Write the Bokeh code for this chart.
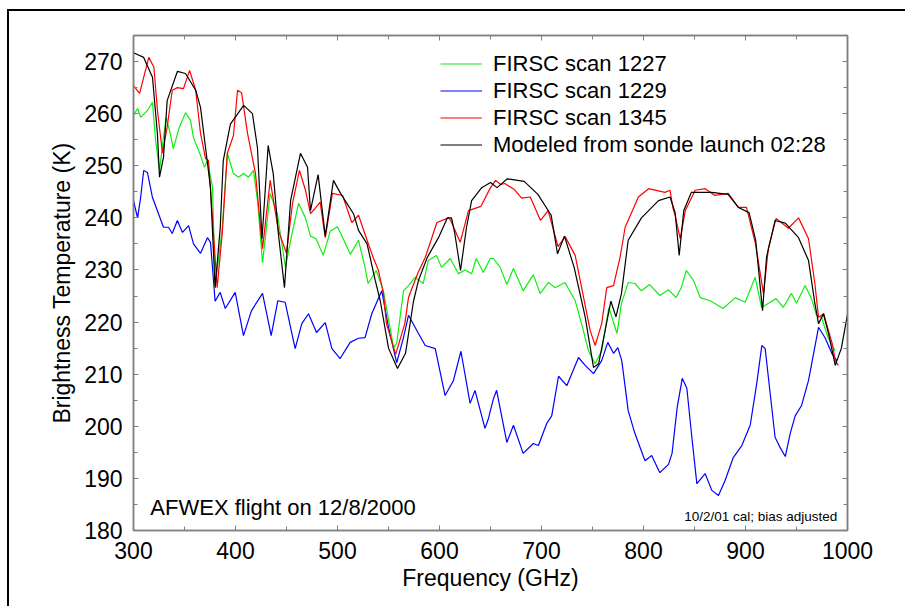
from bokeh.plotting import figure
from bokeh.models import (Range1d, LinearAxis, SingleIntervalTicker, Legend, LegendItem, Label,
                          CustomJSTickFormatter)
from bokeh.embed import file_html
from bokeh.resources import INLINE

# ---------------- data ----------------
model_f = [300, 310, 318.6, 323.5, 325.5, 329.4, 333, 343, 351, 361, 365.7, 370.6, 375.5, 380, 385, 388, 395, 408,
           416.6, 421.5, 426, 432, 437, 442, 448, 454, 463.7, 470.6, 473.5, 481, 488, 496, 503, 515.7, 520.6, 529,
           537, 542, 550, 558.8, 566.7, 574.5, 579.4, 588, 599, 607.8, 611.8, 615, 620.6, 626.5, 631.5, 641.4, 650,
           656.5, 666.5, 683, 696.5, 709.5, 715.7, 722.5, 732, 742.8, 751, 756, 762.4, 768, 773, 778.4, 785, 798,
           814.7, 826, 831, 835, 839.5, 847, 866.7, 883, 893, 903.5, 910, 916.7, 920.6, 929, 939, 952, 961.8, 968,
           971.6, 976.5, 981.4, 988, 994, 1000]
model_t = [271.7, 270.8, 267, 256, 247.8, 251.6, 262.5, 268.1, 267.7, 264.5, 261.2, 253.5, 245.8, 226.6, 238, 251, 258,
           261.6, 260, 253.5, 236, 253.9, 248.5, 237, 226.6, 243.3, 252.4, 249.7, 241.4, 248.3, 236.5, 247.2, 244.7,
           240.8, 237.6, 235, 228, 224, 215, 211.1, 214, 224, 228, 232.4, 236.2, 240, 240, 237, 229.9, 238.2, 243.3,
           245.8, 246.8, 245.8, 247.5, 247, 244.5, 240.5, 233.1, 236.5, 230.5, 221, 211.3, 212, 218.4, 224, 221,
           225.5, 235.7, 240, 243.3, 244, 241, 232.8, 241.4, 244.9, 244.9, 244.5, 242, 241, 235.7, 222.2, 232.4,
           239.5, 239, 236.2, 231.8, 223.6, 219.7, 221.6, 217.8, 211.7, 215, 221.5]

s1345_f = [300, 306, 315, 320, 323.5, 328.4, 333, 338, 343, 349, 355, 361, 365.7, 370.6, 373.5, 378.4, 382, 387, 392,
           398, 402, 406, 411.8, 419.6, 426.5, 434, 442, 450, 455.9, 462.7, 468.6, 473.5, 478, 483, 488, 495, 505,
           514, 520.6, 529, 535, 540, 545, 548, 557, 566, 569.6, 579, 586, 597.5, 608.8, 611, 620.3, 628.4, 640.5,
           650, 655, 660, 664, 673, 680.5, 689, 699, 706.5, 716.2, 723.2, 733, 741, 747.7, 752.6, 759, 764, 770.6,
           777, 782, 795, 805, 821, 826, 829, 831, 836, 841, 850.7, 860.5, 870, 883, 893, 901, 909.8, 917.6, 922.5,
           930, 942, 952, 961.8, 968, 971.6, 976.5, 985, 988, 991]
s1345_t = [265.4, 263.9, 270.8, 268.9, 260.6, 252.4, 257.4, 264.5, 265, 264.8, 268.3, 264.5, 256.2, 251.4, 251, 237,
           226.6, 237, 252.4, 255.8, 264.5, 264, 256.2, 248.5, 234.1, 247.2, 237.6, 233.2, 242.8, 249.1, 245.3, 240.8,
           241.8, 243, 236.2, 244.7, 244.3, 239.1, 240.5, 235.7, 232.4, 230, 225.5, 219.7, 213.8, 219.7, 224.7,
           229.5, 232.4, 239.1, 240, 239.5, 235.3, 241.4, 242.2, 245.8, 247.2, 246.4, 246.6, 245.5, 243.8, 244,
           239.5, 241.4, 234.5, 236.4, 232.8, 225, 218.4, 215.5, 219.7, 226.6, 227, 232.4, 238.2, 244, 245.6, 244.9,
           245.3, 241.8, 240.5, 236, 241.4, 245.3, 245.6, 244.3, 244.7, 242, 242, 235, 225.5, 234.3, 239.9, 238,
           240, 236, 227.4, 220.9, 221.6, 215.9, 212.6, 211.7]

s1227_f = [300, 304, 307, 313.7, 318.6, 321.6, 325.5, 329, 332, 336, 339, 345, 351, 355.9, 358.8, 365.7, 369.6, 372.5,
           377.5, 380, 387, 392, 398, 403, 408, 412.7, 417.6, 421.6, 426.5, 434, 441, 449, 454, 461.8, 468.6, 473.5,
           479, 486, 493, 500, 506, 512.5, 520.6, 527, 530, 538, 545, 555, 558, 564.7, 569.6, 576, 584, 589, 597,
           602, 610.5, 618.6, 625, 631.5, 636, 643, 649.7, 653, 659.5, 666, 672.5, 682, 692, 698.7, 707, 713.4, 723,
           733, 741, 746, 752.6, 759, 766, 774, 778.4, 785, 791.6, 798, 806, 816, 824.5, 832, 837, 842, 849, 855.6,
           865.4, 878, 890, 899.7, 909.5, 915.7, 922.5, 930, 937, 945, 950, 958.5, 964.7, 969.6, 974.5, 981, 988]
s1227_t = [259.7, 261, 259.3, 260.6, 262.2, 254.9, 249.1, 254.9, 259.3, 256.2, 253.3, 257.4, 260.2, 258.7, 255.4, 252,
           249.7, 251, 245.8, 226.6, 238, 252.4, 248.5, 247.8, 248.5, 247.8, 249.1, 243.3, 231.4, 244.7, 240.8, 230.5,
           235.7, 242.8, 240, 236.5, 236, 232.8, 237.5, 238.3, 235.8, 233, 235.7, 230.5, 227.4, 229.9, 226, 215.1,
           215.9, 226, 227, 228.6, 227.4, 231.8, 232.8, 230.5, 232.2, 229.3, 230, 229.3, 232.2, 229.5, 232.2, 232.2,
           230.5, 227.2, 230.3, 226, 229.1, 225.5, 227.6, 226.6, 227.6, 224.1, 218.4, 214.5, 212, 214.5, 222.8, 217.8,
           223.6, 227.6, 227.4, 226, 227.2, 225.1, 226.2, 224.7, 226.6, 229.9, 228, 224.7, 224.1, 222.6, 224.7,
           223.8, 228.6, 222.8, 223.6, 224.5, 222.8, 225.5, 223.6, 227, 224.5, 221.3, 220.9, 217, 214.5]

s1229_f = [300, 304, 307, 310, 313.7, 318.6, 324.5, 329.4, 334.3, 338, 343, 348, 354, 358.8, 365.7, 372.5, 375.5, 380,
           385, 390, 399.7, 407.8, 415.7, 426.5, 435, 441.5, 448.7, 458.5, 465, 471.6, 479.4, 488, 494.5, 502.6,
           512.4, 520.6, 527, 533.6, 543.4, 550, 558, 564.7, 569.6, 579.4, 586, 595.8, 605.5, 613.7, 621, 630, 634.8,
           644.6, 648, 652.9, 656, 666, 672.5, 682, 692, 697, 705, 710, 716.7, 724.8, 736.3, 742.8, 751, 759, 765,
           770.6, 774.8, 778.7, 785, 791.6, 801.5, 808, 816, 824.5, 828, 833, 838, 842.5, 847.4, 852.3, 860.5, 867,
           873.5, 880, 888, 896.4, 904.6, 911, 916, 919.3, 924.2, 929, 934, 939, 943.8, 948.7, 955, 961.8, 971.6,
           978, 984.6, 989.5]
s1229_t = [243.3, 240, 243.9, 249.1, 248.7, 243.9, 240.8, 238.2, 238.2, 237, 239.5, 237.2, 238.5, 235, 233.2, 236.2,
           235.3, 224, 225.7, 222.6, 225.7, 217.4, 222.2, 225.5, 217.4, 224.1, 223.8, 214.9, 219.7, 221.6, 218,
           219.9, 214.9, 213, 216.1, 216.9, 217, 221.6, 226, 219, 212.2, 217, 221.3, 217.8, 215.5, 214.9, 205.9,
           208.8, 214.4, 204.4, 206.9, 199.6, 201.5, 205.3, 206.9, 196.9, 200.2, 194.8, 196.7, 196.3, 200.5, 202,
           209.6, 207.8, 213.2, 211.7, 210.1, 212.6, 216.1, 214, 215.1, 212.6, 203, 198.6, 193.4, 194.4, 191.1,
           192.7, 194.8, 203.6, 209.2, 207.3, 197.9, 189, 190.9, 187.7, 186.7, 189.6, 194, 196.3, 200.2, 208.2,
           215.5, 214.9, 206.3, 197.9, 195.9, 194.2, 198.6, 202, 204, 208.8, 219, 217, 214, 212.6]

series_labels = ["FIRSC scan 1227", "FIRSC scan 1229", "FIRSC scan 1345", "Modeled from sonde launch 02:28"]
x_label = "Frequency (GHz)"
y_label = "Brightness Temperature (K)"
note_left = "AFWEX flight on 12/8/2000"
note_right = "10/2/01 cal; bias adjusted"

# ---------------- figure ----------------
FONT = "Liberation Sans"
AX = "#808080"

p = figure(width=898, height=597, output_backend="svg", toolbar_location=None,
           x_range=Range1d(300, 1000), y_range=Range1d(180, 275),
           min_border_left=124, min_border_right=60, min_border_top=24, min_border_bottom=78)
p.margin = (9, 0, 0, 7)
p.styles = {"border-top": "2px solid black", "border-left": "2px solid black"}
p.background_fill_color = "white"
p.border_fill_color = "white"
p.outline_line_color = AX
p.outline_line_width = 1.5
p.grid.visible = False

r_blue = p.line(s1229_f, s1229_t, line_color="#0000ff", line_width=1.2)
r_green = p.line(s1227_f, s1227_t, line_color="#11ee11", line_width=1.2)
r_red = p.line(s1345_f, s1345_t, line_color="#ff0000", line_width=1.2)
r_black = p.line(model_f, model_t, line_color="#000000", line_width=1.2)

def style_axis(ax, show_labels, label_standoff=10):
    ax.axis_line_color = AX
    ax.axis_line_width = 1.5
    ax.major_tick_line_color = AX
    ax.minor_tick_line_color = AX
    ax.major_tick_in = 5
    ax.major_tick_out = 0
    ax.minor_tick_in = 4
    ax.minor_tick_out = 0
    ax.major_label_text_font = FONT
    ax.major_label_text_color = "black"
    if show_labels:
        ax.major_label_text_font_size = "23px"
        ax.major_label_standoff = 11
        ax.axis_label_text_font = FONT
        ax.axis_label_text_font_size = "23px"
        ax.axis_label_text_font_style = "normal"
        ax.axis_label_text_color = "black"
        ax.axis_label_standoff = label_standoff
    else:
        ax.formatter = CustomJSTickFormatter(code="return ''")
        ax.major_label_standoff = 0

xt = SingleIntervalTicker(interval=100, num_minor_ticks=2)
yt = SingleIntervalTicker(interval=10, num_minor_ticks=2)
p.xaxis.ticker = xt
p.yaxis.ticker = yt
p.xaxis.axis_label = x_label
p.yaxis.axis_label = y_label
style_axis(p.xaxis[0], True, 3)
style_axis(p.yaxis[0], True, 6)

top = LinearAxis(ticker=SingleIntervalTicker(interval=100, num_minor_ticks=2))
right = LinearAxis(ticker=SingleIntervalTicker(interval=10, num_minor_ticks=2))
style_axis(top, False)
style_axis(right, False)
p.add_layout(top, "above")
p.add_layout(right, "right")

legend = Legend(items=[LegendItem(label=series_labels[0], renderers=[r_green]),
                       LegendItem(label=series_labels[1], renderers=[r_blue]),
                       LegendItem(label=series_labels[2], renderers=[r_red]),
                       LegendItem(label=series_labels[3], renderers=[r_black])],
                location=(307, 372), orientation="vertical",
                label_text_font=FONT, label_text_font_size="22px", label_text_color="black",
                glyph_width=42, glyph_height=27, label_height=27, spacing=0, padding=0, margin=0,
                label_standoff=11, border_line_color=None, background_fill_alpha=0)
p.add_layout(legend, "center")

p.add_layout(Label(x=316.5, y=184.4, text=note_left, text_font=FONT, text_font_size="22px",
                   text_baseline="middle", text_align="left", text_color="black"))
p.add_layout(Label(x=990, y=182.7, text=note_right, text_font=FONT, text_font_size="13.5px",
                   text_baseline="middle", text_align="right", text_color="black"))

open("out.html", "w").write(file_html(p, INLINE))
